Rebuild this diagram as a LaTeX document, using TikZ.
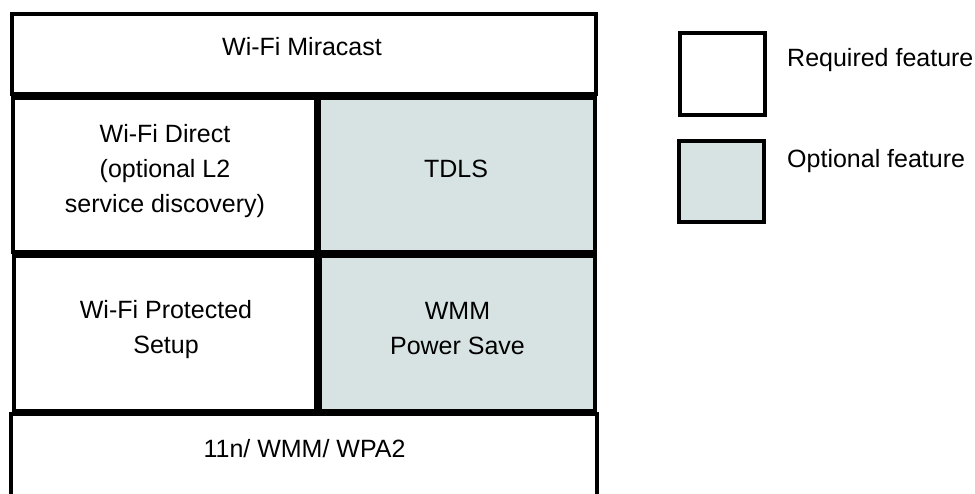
\documentclass[tikz,border=0pt]{standalone}
\usepackage{fontspec}
\setmainfont{Liberation Sans}
\definecolor{optfill}{RGB}{215,227,227}
\begin{document}
\begin{tikzpicture}[x=1pt,y=-1pt,
  box/.style={draw=black, line width=4.5pt, fill=white, inner sep=0pt, outer sep=0pt, anchor=north west},
  optbox/.style={box, fill=optfill},
  lbl/.style={font=\fontsize{25}{35}\selectfont, inner sep=0pt, align=center}]
\useasboundingbox (0,0) rectangle (975,493);
\clip (0,0) rectangle (975,493);
% layer boxes
\node[box, minimum width=584pt, minimum height=80pt] (mira) at (12,14) {};
\node[optbox, minimum width=276pt, minimum height=154pt] (tdls) at (319,98) {};
\node[box, minimum width=303pt, minimum height=154pt] (direct) at (13,98) {};
\node[optbox, minimum width=275pt, minimum height=155pt] (wmm) at (320,256) {};
\node[box, minimum width=302pt, minimum height=155pt] (wps) at (14,256) {};
\node[box, minimum width=586pt, minimum height=95pt] (base) at (11,414) {};
% legend boxes
\node[box, minimum width=85pt, minimum height=82pt] (legreq) at (680,33) {};
\node[optbox, minimum width=85pt, minimum height=81pt] (legopt) at (679,141) {};
% texts
\node[lbl, anchor=base] (tmira) at (302,55) {Wi-Fi Miracast};
\node[lbl] (tdirect) at (165,171) {Wi-Fi Direct\\(optional L2\\service discovery)};
\node[lbl, anchor=base] (ttdls) at (456,177) {TDLS};
\node[lbl] (twps) at (166,330) {Wi-Fi Protected\\Setup};
\node[lbl] (twmm) at (457.5,328.5) {WMM\\Power Save};
\node[lbl, anchor=base] (tbase) at (304.5,457) {11n/ WMM/ WPA2};
\node[lbl, anchor=base west] (treq) at (787,66) {Required feature};
\node[lbl, anchor=base west] (topt) at (787,167) {Optional feature};
\end{tikzpicture}
\end{document}
